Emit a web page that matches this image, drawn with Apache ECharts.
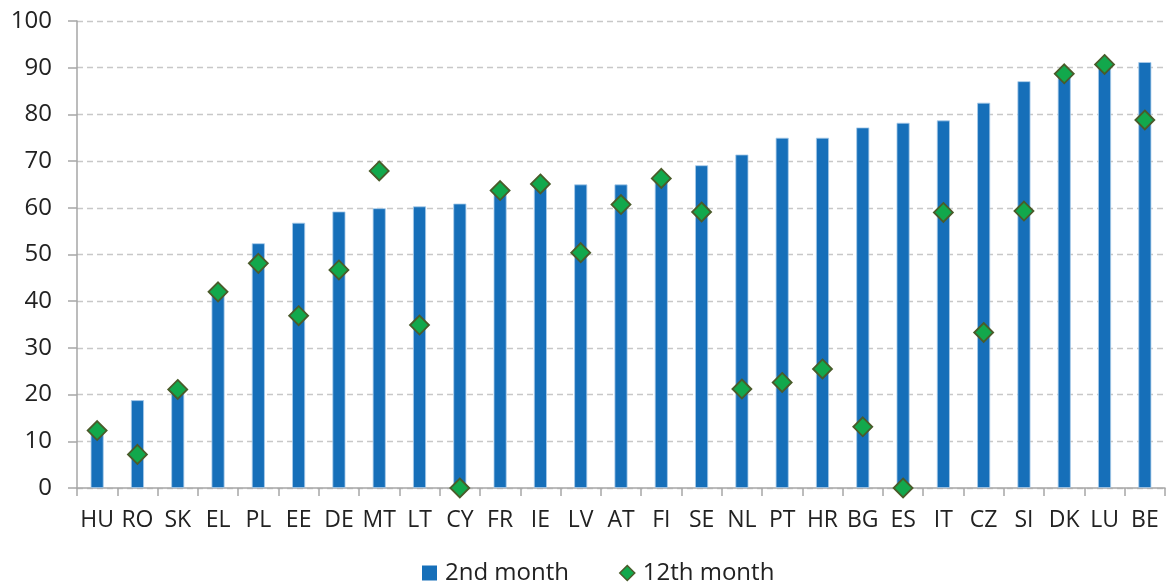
<!DOCTYPE html>
<html>
<head>
<meta charset="utf-8">
<script src="https://cdn.jsdelivr.net/npm/echarts@6/dist/echarts.min.js"></script>
<style>
  html, body { margin: 0; padding: 0; background: #ffffff; }
  #chart { width: 1166px; height: 582px; }
</style>
</head>
<body>
<div id="chart"></div>
<script>
// Country codes along the x axis
const countries = ['HU','RO','SK','EL','PL','EE','DE','MT','LT','CY','FR','IE','LV','AT','FI','SE','NL','PT','HR','BG','ES','IT','CZ','SI','DK','LU','BE'];

// Share in the 2nd month (bars)
const month2 = [12.0, 18.8, 20.5, 41.6, 52.4, 56.8, 59.2, 59.9, 60.3, 60.9, 63.2, 64.6, 65.0, 65.0, 66.0, 69.1, 71.4, 75.0, 75.0, 77.2, 78.2, 78.7, 82.5, 87.1, 88.4, 90.2, 91.2];

// Share in the 12th month (diamonds)
const month12 = [12.3, 7.2, 21.1, 42.0, 48.1, 36.9, 46.7, 67.9, 34.9, 0.0, 63.7, 65.1, 50.4, 60.7, 66.3, 59.1, 21.2, 22.6, 25.5, 13.1, 0.0, 59.0, 33.3, 59.3, 88.7, 90.7, 78.8];

// Value axis tick range
const yMin = 0, yMax = 100, yStep = 10;

const FONT = '"Open Sans", "Noto Sans", sans-serif';
const TEXT = '#222222';
const AXIS = '#a6a6a6';

const chart = echarts.init(document.getElementById('chart'), null, { renderer: 'canvas' });

chart.setOption({
  animation: false,
  backgroundColor: '#ffffff',
  grid: { left: 77, right: 1, top: 21, bottom: 94, containLabel: false },
  legend: {
    top: 556,
    left: 417,
    itemGap: 50,
    itemWidth: 15,
    itemHeight: 15,
    textStyle: { fontFamily: FONT, fontSize: 24, color: TEXT, padding: [0, 0, 0, 3] },
    data: [
      { name: '2nd month', icon: 'rect', itemStyle: { color: '#166fb9', borderWidth: 0 } },
      { name: '12th month', icon: 'diamond', itemStyle: { color: '#12a84c', borderColor: '#4a5b2a', borderWidth: 1.5 } }
    ]
  },
  xAxis: {
    type: 'category',
    data: countries,
    boundaryGap: true,
    axisLine: { lineStyle: { color: AXIS, width: 1.5 } },
    axisTick: { show: true, alignWithLabel: false, length: 8, lineStyle: { color: AXIS, width: 1.5 } },
    axisLabel: { fontFamily: FONT, fontSize: 23, color: TEXT, margin: 21, interval: 0 },
    splitLine: { show: false }
  },
  yAxis: {
    type: 'value',
    min: yMin,
    max: yMax,
    interval: yStep,
    axisLine: { show: true, lineStyle: { color: AXIS, width: 1.5 } },
    axisTick: { show: true, length: 9, lineStyle: { color: AXIS, width: 1.5 } },
    axisLabel: { fontFamily: FONT, fontSize: 24, color: TEXT, margin: 25 },
    splitLine: { show: true, lineStyle: { color: '#c8c8c8', type: [6, 4], width: 1.3 } }
  },
  series: [
    {
      name: '2nd month',
      type: 'bar',
      data: month2,
      barWidth: 13,
      itemStyle: { color: '#166fb9', borderColor: '#a9cbea', borderWidth: 0.8 },
      z: 2
    },
    {
      name: '12th month',
      type: 'scatter',
      data: month12,
      symbol: 'diamond',
      symbolSize: [19, 19],
      itemStyle: { color: '#12a84c', borderColor: '#4a5b2a', borderWidth: 1.8, opacity: 1 },
      z: 3
    }
  ]
});
</script>
</body>
</html>
